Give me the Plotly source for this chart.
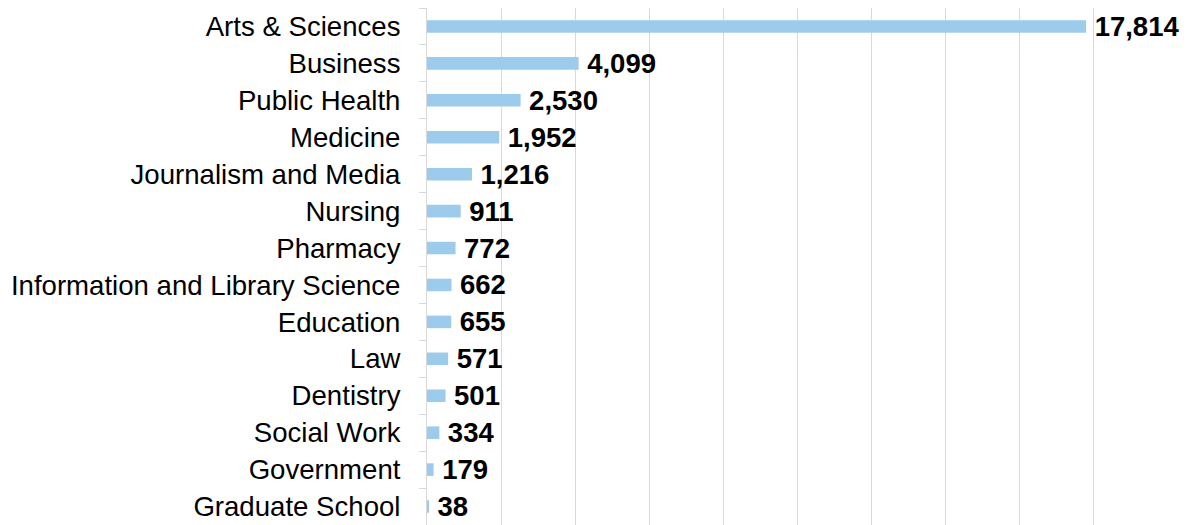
import plotly.graph_objects as go

# schools and headcounts, top to bottom as in the chart
schools = ['Arts & Sciences', 'Business', 'Public Health', 'Medicine',
           'Journalism and Media', 'Nursing', 'Pharmacy',
           'Information and Library Science', 'Education', 'Law',
           'Dentistry', 'Social Work', 'Government', 'Graduate School']
counts = [17814, 4099, 2530, 1952, 1216, 911, 772, 662, 655, 571, 501, 334, 179, 38]

fig = go.Figure(go.Bar(
    x=counts, y=schools, orientation='h',
    marker=dict(color='#9DCBEB', line=dict(width=0)),
    width=0.34,
    texttemplate='\u2009%{x:,}', textposition='outside',
    textfont=dict(family='Liberation Sans', size=27.5, color='#000000', weight='bold'),
    cliponaxis=False, constraintext='none',
))

# page body adds ~8px margin, so the figure is a bit smaller than the window
fig.update_layout(
    width=1179, height=517,
    margin=dict(l=419, r=20, t=0, b=0),
    plot_bgcolor='white', paper_bgcolor='white',
    showlegend=False,
    font=dict(family='Liberation Sans', color='#000000'),
)
fig.update_xaxes(range=[0, 20000], dtick=2000, showticklabels=False,
                 showgrid=True, gridcolor='#D9D9D9', gridwidth=1,
                 zeroline=False, showline=False)
fig.update_yaxes(autorange='reversed', categoryorder='array', categoryarray=schools,
                 showline=True, linecolor='#D9D9D9', linewidth=1,
                 ticks='outside', tickson='boundaries', ticklen=7, tickcolor='#D9D9D9',
                 tickfont=dict(family='Liberation Sans', size=27.6, color='#000000'),
                 ticklabelstandoff=20, showgrid=False, automargin=False)

fig.write_html("out.html")
